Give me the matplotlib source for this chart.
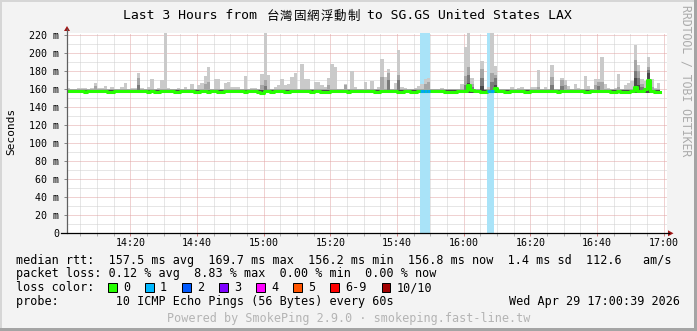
import matplotlib
matplotlib.use('Agg')
import matplotlib.pyplot as plt
import numpy as np
from matplotlib.patches import Rectangle, Polygon

W, H = 697, 331
MONO = 'DejaVu Sans Mono'
CJK = 'Noto Sans CJK TC'

# ---- data: one 60 s step each, 14:01 .. 16:59 ----
median_ms = [
    157.9, 157.8, 157.6, 157.8, 157.9, 157.0, 157.6, 157.8, 157.9, 157.7,
    157.8, 157.6, 156.9, 157.0, 157.7, 157.8, 157.9, 157.6, 157.8, 157.9,
    158.1, 158.0, 157.8, 157.6, 156.9, 157.7, 157.0, 156.9, 157.7, 157.9,
    157.8, 157.6, 157.0, 156.9, 157.7, 157.8, 157.9, 157.6, 157.0, 157.1,
    157.7, 157.9, 157.0, 157.8, 157.6, 157.0, 157.1, 157.8, 157.9, 157.7,
    157.8, 158.0, 157.6, 157.0, 157.8, 157.7, 157.9, 157.1, 156.2, 158.1,
    157.8, 157.0, 157.6, 157.8, 157.7, 157.0, 157.1, 157.8, 157.9, 157.7,
    158.0, 157.8, 157.7, 157.0, 157.6, 157.8, 157.0, 157.1, 157.0, 157.8,
    157.9, 157.7, 157.8, 157.6, 157.0, 157.8, 157.9, 157.6, 157.8, 157.7,
    157.9, 157.8, 157.0, 157.1, 157.8, 157.7, 157.9, 157.6, 157.8, 157.0,
    157.1, 157.8, 157.6, 157.0, 156.9, 157.7, 157.6, 157.6, 157.7, 157.8,
    157.9, 157.8, 157.6, 157.0, 157.1, 156.9, 157.0, 157.8, 157.9, 158.3,
    165.0, 158.8, 157.8, 157.6, 157.0, 157.1, 157.8, 158.0, 161.5, 157.8,
    157.6, 157.0, 156.9, 157.7, 157.8, 157.9, 157.6, 157.0, 157.1, 157.8,
    157.9, 157.8, 157.6, 157.8, 157.7, 158.0, 157.8, 157.0, 157.8, 158.4,
    158.5, 157.9, 157.7, 157.8, 157.6, 157.0, 156.9, 157.8, 157.9, 157.7,
    158.0, 157.8, 157.6, 157.0, 157.1, 157.8, 157.0, 156.9, 157.1, 158.2,
    162.5, 158.6, 157.8, 159.8, 170.0, 158.0, 157.0, 156.8,
]

smoke_max = [
    161.5, 160.5, 160.5, 161, 161, 161, 160, 161, 167, 161,
    161.5, 163.5, 160, 162, 160.5, 160.5, 163, 166.5, 160.5, 161,
    161.5, 178.5, 161, 160.5, 162.5, 171, 160.5, 161.5, 170, 225,
    161, 160.5, 160.5, 161.5, 160.5, 162, 160.5, 166, 160.5, 164.5,
    167, 175, 184.5, 160.5, 171.5, 171.5, 160.5, 167, 168, 163,
    162.5, 163, 160.5, 175, 160.5, 161.5, 161.5, 160.5, 177.5, 225,
    176, 160.5, 162.5, 164.5, 171.5, 165, 166, 173.5, 178.5, 160.5,
    188, 171.5, 171.5, 160.5, 168, 168.5, 164.5, 162.5, 172.5, 188.5,
    185, 160.5, 160.5, 166, 160.5, 180, 162.5, 160.5, 160.5, 168,
    160.5, 169.5, 160.5, 162, 194, 173.5, 182, 160.5, 167, 204,
    162, 161.5, 160.5, 160.5, 161.5, 163.5, 166, 171, 172, 160.5,
    160.5, 160, 161.5, 160.5, 160, 160.5, 160.5, 160.5, 166, 206.5,
    225, 172.5, 160.5, 160.5, 191, 160.5, 162, 225, 186, 160.5,
    160, 160, 160, 162.5, 160.5, 161.5, 162.5, 160.5, 160.5, 162.5,
    162.5, 181, 160.5, 162, 160.5, 186.5, 160.5, 160, 172.5, 170,
    163.5, 160, 166, 161.5, 160, 175, 163.5, 160.5, 171, 171,
    196, 166, 161.5, 160.5, 161.5, 177.5, 160.5, 164.5, 167, 169,
    209.5, 187, 171, 169, 196, 171, 161.5, 167,
]

# inner smoke bands (step index: top in ms); elsewhere they sit under the median
smoke_floor = 156.0
band2_base, band3_base, band4_base = 159.8, 159.3, 158.8
band2 = {8: 164, 21: 173, 41: 166, 42: 168, 58: 165, 59: 170, 78: 165, 83: 165,
         94: 174, 96: 178, 99: 176, 107: 166, 108: 168, 119: 175, 120: 185,
         121: 166, 124: 182, 127: 178, 128: 176, 141: 163, 145: 174, 148: 170,
         149: 165, 158: 165, 159: 168, 160: 168, 165: 163, 170: 193, 171: 180,
         172: 166, 174: 185, 175: 163}
band3 = {21: 165, 59: 164, 96: 170, 99: 170, 119: 165, 120: 176, 121: 163,
         124: 172, 127: 168, 128: 172, 145: 165, 148: 164, 159: 164, 170: 180,
         171: 172, 172: 163, 174: 181}
band4 = {120: 167, 124: 164, 128: 165, 170: 172, 171: 165, 174: 178}

loss_steps = [106, 107, 108, 126, 127]
loss_counts = [1, 1, 1, 1, 1]

y_ticks = [0, 20, 40, 60, 80, 100, 120, 140, 160, 180, 200, 220]
y_labels = ['0', '20 m', '40 m', '60 m', '80 m', '100 m', '120 m', '140 m',
            '160 m', '180 m', '200 m', '220 m']
x_ticks = [20, 40, 60, 80, 100, 120, 140, 160, 180]   # minutes after 14:00
x_labels = ['14:20', '14:40', '15:00', '15:20', '15:40', '16:00', '16:20',
            '16:40', '17:00']

loss_names = ['0', '1', '2', '3', '4', '5', '6-9', '10/10']
loss_colors = ['#26ff00', '#00b8ff', '#0059ff', '#7e00ff', '#ff00ff',
               '#ff5500', '#ff0000', '#a10000']

title_left = 'Last 3 Hours from'
title_cjk = '台灣固網浮動制'
title_right = 'to SG.GS United States LAX'
stats_rtt = 'median rtt:  157.5 ms avg  169.7 ms max  156.2 ms min  156.8 ms now  1.4 ms sd  112.6   am/s'
stats_loss = 'packet loss: 0.12 % avg  8.83 % max  0.00 % min  0.00 % now'
probe_txt = 'probe:        10 ICMP Echo Pings (56 Bytes) every 60s'
date_txt = 'Wed Apr 29 17:00:39 2026'
footer_txt = 'Powered by SmokePing 2.9.0 \u00b7 smokeping.fast-line.tw'

# ---- figure ----
fig = plt.figure(figsize=(W / 100, H / 100), dpi=100, facecolor='#f3f3f3')

x0, y0, pw, ph = 67, 233.3, 600, 200
ax = fig.add_axes([x0 / W, (H - y0) / H, pw / W, ph / H], zorder=1)
ax.set_facecolor('white')
ax.set_xlim(1, 181)
ax.set_ylim(0, 222.2)
for s in ax.spines.values():
    s.set_visible(False)

# grid
ax.set_xticks(x_ticks)
ax.set_xticklabels(x_labels, family=MONO, fontsize=7.2)
ax.set_xticks(np.arange(5, 181, 5), minor=True)
ax.set_yticks(y_ticks)
ax.set_yticklabels(y_labels, family=MONO, fontsize=7.2)
ax.set_yticks(np.arange(10, 221, 20), minor=True)
ax.grid(which='minor', color='#cfcfcf', linestyle=(0, (1, 1)), linewidth=0.72)
ax.grid(which='major', color='#e2a4a4', linestyle=(0, (1, 1)), linewidth=0.72)
ax.set_axisbelow(True)
ax.tick_params(axis='x', which='major', length=2, width=0.72, color='#d08080', pad=1.5)
ax.tick_params(axis='x', which='minor', length=2, width=0.72, color='#b0b0b0')
ax.tick_params(axis='y', which='major', length=2, width=0.72, color='#888888', pad=3.6)
ax.tick_params(axis='y', which='minor', length=0)

n = len(smoke_max)
edges = np.arange(1, n + 2)


def ext(v):
    v = list(v)
    return np.array(v + [v[-1]])


# loss background
for i, c in zip(loss_steps, loss_counts):
    ax.axvspan(edges[i], edges[i + 1], color='#a9e3f8', lw=0, zorder=1)

# smoke
b2 = [band2.get(i, band2_base) for i in range(n)]
b3 = [band3.get(i, band3_base) for i in range(n)]
b4 = [band4.get(i, band4_base) for i in range(n)]
for vals, col in [(smoke_max, '#cacaca'), (b2, '#a6a6a6'), (b3, '#7a7a7a'), (b4, '#4a4a4a')]:
    ax.fill_between(edges, smoke_floor, ext(vals), step='post', color=col, lw=0, zorder=2)

# median
ax.step(edges, ext(median_ms), where='post', color='#26ff00', lw=2.2, zorder=3)
for i, c in zip(loss_steps, loss_counts):
    ax.plot([edges[i], edges[i + 1]], [median_ms[i], median_ms[i]],
            color='#00a8f0', lw=2.2, solid_capstyle='butt', zorder=4)

# ---- overlay in pixel coords ----
ov = fig.add_axes([0, 0, 1, 1], zorder=5)
ov.set_xlim(0, W)
ov.set_ylim(H, 0)
ov.axis('off')

# frame
ov.add_patch(Rectangle((0, 0), W, 2, color='#d6d6d6', lw=0))
ov.add_patch(Rectangle((0, 0), 2, H, color='#d6d6d6', lw=0))
ov.add_patch(Rectangle((W - 3, 0), 3, H, color='#a4a4a4', lw=0))
ov.add_patch(Rectangle((0, H - 3), W, 3, color='#a4a4a4', lw=0))

# axes lines and arrows
ov.plot([x0, x0], [y0, 29], color='#606060', lw=0.9)
ov.plot([61, 669], [y0, y0], color='#000000', lw=0.9)
ov.add_patch(Polygon([(64, 31), (70, 31), (67, 26)], closed=True, color='#a01515', lw=0))
ov.add_patch(Polygon([(668, y0 - 3), (668, y0 + 3), (673.5, y0)], closed=True, color='#a01515', lw=0))

# title: latin part in mono, chinese glyphs placed on their own advance
ov.text(123, 19, title_left, family=MONO, fontsize=9.45, va='baseline')
for k, ch in enumerate(title_cjk):
    ov.text(266.5 + 13.5 * k, 19.6, ch, family=CJK, fontsize=9.0, va='baseline')
ov.text(367.3, 19, title_right, family=MONO, fontsize=9.45, va='baseline')

ov.text(686, 5, 'RRDTOOL / TOBI OETIKER', family=MONO, fontsize=8.3, color='#ababab',
        rotation=-90, ha='center', va='top')
ov.text(11, 131.5, 'Seconds', family=MONO, fontsize=8, rotation=90, ha='center', va='center')

# legend
fs = 8.5
ov.text(16, 263.6, stats_rtt, family=MONO, fontsize=fs, va='baseline')
ov.text(16, 277.4, stats_loss, family=MONO, fontsize=fs, va='baseline')
ov.text(16, 291.2, 'loss color:', family=MONO, fontsize=fs, va='baseline')
sq_x = [108.3, 145.3, 182.3, 219.3, 256.3, 293.3, 330.3, 381.5]
for sx, name, col in zip(sq_x, loss_names, loss_colors):
    ov.add_patch(Rectangle((sx, 283.3), 8.4, 8.4, facecolor=col, edgecolor='black', lw=0.72))
    ov.text(sx + 14.7, 291.2, name, family=MONO, fontsize=fs, va='baseline')
ov.text(16, 305, probe_txt, family=MONO, fontsize=fs, va='baseline')
ov.text(680, 305, date_txt, family=MONO, fontsize=fs, va='baseline', ha='right')
ov.text(348.5, 322.3, footer_txt, family=MONO, fontsize=fs, va='baseline', ha='center',
        color='#b4b4b4')

fig.savefig('out.png', dpi=100, facecolor=fig.get_facecolor())
